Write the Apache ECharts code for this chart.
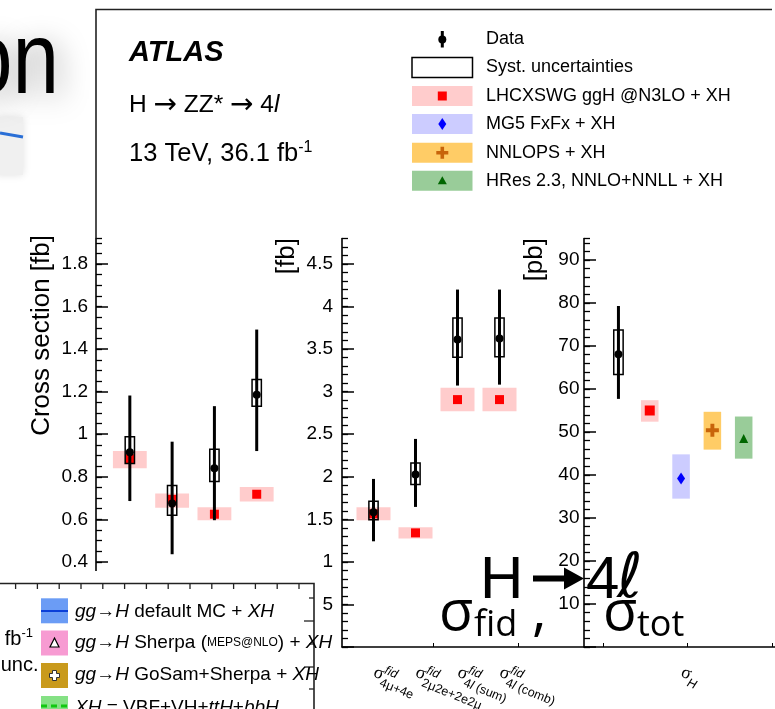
<!DOCTYPE html>
<html>
<head>
<meta charset="utf-8">
<title>H → ZZ* → 4l cross sections</title>
<script src="https://cdn.jsdelivr.net/npm/echarts@6.0.0/dist/echarts.min.js"></script>
<style>
  html, body { margin: 0; padding: 0; background: #fff; }
  #chart { width: 775px; height: 709px; }
</style>
</head>
<body>
<div id="chart"></div>
<script>
// ---------- values ----------
// Per-channel fiducial cross sections [fb]: 4mu, 4e, 2mu2e, 2e2mu
const chanPos = [1, 2, 3, 4];
const chanMeas = [0.915, 0.675, 0.840, 1.186];
const chanStatLo = [0.686, 0.436, 0.596, 0.921];
const chanStatHi = [1.182, 0.965, 1.132, 1.492];
const chanSystLo = [0.862, 0.619, 0.778, 1.131];
const chanSystHi = [0.988, 0.759, 0.930, 1.257];
const chanPred = [0.885, 0.694, 0.624, 0.718];
const chanPredLo = [0.840, 0.655, 0.596, 0.684];
const chanPredHi = [0.921, 0.721, 0.657, 0.752];

// Combined fiducial cross sections [fb]
const combPos = [1, 2, 3, 4];
const combSubs = ['4μ+4e', '2μ2e+2e2μ', '4l (sum)', '4l (comb)'];
const combMeas = [1.583, 2.026, 3.612, 3.624];
const combStatLo = [1.242, 1.646, 3.072, 3.083];
const combStatHi = [1.975, 2.445, 4.200, 4.200];
const combSystLo = [1.494, 1.908, 3.404, 3.410];
const combSystHi = [1.712, 2.163, 3.867, 3.867];
const combPred = [1.564, 1.341, 2.907, 2.907];
const combPredLo = [1.489, 1.274, 2.770, 2.770];
const combPredHi = [1.642, 1.407, 3.045, 3.045];

// Total cross section [pb]: measurement and four predictions
const totMeasPos = [1];
const totMeas = [68.1];
const totStatLo = [57.7];
const totStatHi = [79.3];
const totSystLo = [63.4];
const totSystHi = [73.7];
const totPredPos = [2, 3, 4, 5];
const totPred = [55.0, 39.2, 50.4, 48.5];
const totPredLo = [52.4, 34.5, 45.9, 43.8];
const totPredHi = [57.4, 44.8, 54.7, 53.6];
const totLabelPos = 3;

// Prediction styles (band, marker)
const predNames = ['LHCXSWG ggH @N3LO + XH', 'MG5 FxFx + XH', 'NNLOPS + XH', 'HRes 2.3, NNLO+NNLL + XH'];
const bandColors = ['#ffcccc', '#ccccff', '#ffcc66', '#99cc99'];
const markColors = ['#ff0000', '#0000ff', '#c8640a', '#006600'];
const plusPath = 'path://M3.5,0H6.5V3.5H10V6.5H6.5V10H3.5V6.5H0V3.5H3.5Z';
const markSymbols = ['rect', 'diamond', plusPath, 'triangle'];
const markSizes = [10, [8, 12], 13, 9];

// Axis ticks
const chanMajor = [0, 0.2, 0.4, 0.6, 0.8, 1, 1.2, 1.4, 1.6, 1.8];
const chanLabels = [0.4, 0.6, 0.8, 1, 1.2, 1.4, 1.6, 1.8];
const combMajor = [0, 0.5, 1, 1.5, 2, 2.5, 3, 3.5, 4, 4.5];
const combLabels = [0.5, 1, 1.5, 2, 2.5, 3, 3.5, 4, 4.5];
const totMajor = [0, 10, 20, 30, 40, 50, 60, 70, 80, 90];
const totLabels = [10, 20, 30, 40, 50, 60, 70, 80, 90];

// ---------- helpers ----------
const SANS = '"Liberation Sans", Arial, Helvetica, sans-serif';
const SERIF = '"Liberation Serif", "DejaVu Serif", serif';
const fmt = v => String(Math.round(v * 100) / 100);

function bandShape(halfW) {
  return function (params, api) {
    const x = api.value(0);
    const a = api.coord([x - halfW, api.value(2)]);
    const b = api.coord([x + halfW, api.value(1)]);
    return { type: 'rect', shape: { x: a[0], y: a[1], width: b[0] - a[0], height: b[1] - a[1] },
             style: { fill: api.visual('color') } };
  };
}
function boxShape(halfW) {
  return function (params, api) {
    const x = api.value(0);
    const a = api.coord([x - halfW, api.value(2)]);
    const b = api.coord([x + halfW, api.value(1)]);
    return { type: 'rect', shape: { x: a[0], y: a[1], width: b[0] - a[0], height: b[1] - a[1] },
             style: { fill: 'none', stroke: '#000', lineWidth: 1.5 } };
  };
}
function barShape(params, api) {
  const x = api.value(0);
  const a = api.coord([x, api.value(2)]);
  const b = api.coord([x, api.value(1)]);
  return { type: 'line', shape: { x1: a[0], y1: a[1], x2: b[0], y2: b[1] },
           style: { stroke: '#000', lineWidth: 3 } };
}
function triples(xs, lo, hi) { return xs.map((x, i) => [x, lo[i], hi[i]]); }
function pairs(xs, ys) { return xs.map((x, i) => [x, ys[i]]); }

function majorY(gi, max, majors, labels, margin) {
  return {
    type: 'value', gridIndex: gi, min: 0, max: max, position: 'left',
    axisLine: { show: true, onZero: false, lineStyle: { color: '#000', width: 1.6 } },
    axisTick: { show: true, inside: true, length: 12, customValues: majors, lineStyle: { color: '#000', width: 1.5 } },
    axisLabel: { customValues: labels, formatter: fmt, color: '#000', fontSize: 19, fontFamily: SANS, margin: margin },
    splitLine: { show: false }
  };
}
function minorY(gi, max, step) {
  return {
    type: 'value', gridIndex: gi, min: 0, max: max, interval: step, position: 'left',
    axisLine: { show: false, onZero: false },
    axisTick: { show: true, inside: true, length: 6, lineStyle: { color: '#000', width: 1.3 } },
    axisLabel: { show: false }, splitLine: { show: false }
  };
}
function bottomX(gi, min, max, ticks) {
  return {
    type: 'value', gridIndex: gi, min: min, max: max,
    axisLine: { show: true, onZero: false, lineStyle: { color: '#000', width: 1.5 } },
    axisTick: ticks ? { show: true, inside: true, length: 4, customValues: ticks, lineStyle: { color: '#000' } } : { show: false },
    axisLabel: { show: false }, splitLine: { show: false }
  };
}

function measSeries(gi, pos, meas, statLo, statHi, systLo, systHi, boxHalf) {
  return [
    { type: 'custom', xAxisIndex: gi, yAxisIndex: gi * 2, renderItem: boxShape(boxHalf),
      data: triples(pos, systLo, systHi), encode: { x: 0, y: [1, 2] }, z: 4, silent: true },
    { type: 'custom', xAxisIndex: gi, yAxisIndex: gi * 2, renderItem: barShape,
      data: triples(pos, statLo, statHi), encode: { x: 0, y: [1, 2] }, z: 5, silent: true },
    { type: 'scatter', xAxisIndex: gi, yAxisIndex: gi * 2, symbol: 'circle', symbolSize: 8,
      itemStyle: { color: '#000', opacity: 1 }, data: pairs(pos, meas), z: 6, silent: true }
  ];
}

// ---------- layout ----------
const PLOT_TOP = 238.5, PLOT_H = 408.5;

const option = {
  animation: false,
  backgroundColor: '#fff',
  grid: [
    { left: 96, top: PLOT_TOP, width: 203, height: PLOT_H },
    { left: 342, top: PLOT_TOP, width: 241.5, height: PLOT_H },
    { left: 584, top: PLOT_TOP, width: 192, height: PLOT_H }
  ],
  xAxis: [
    bottomX(0, 0.2, 5.0, null),
    bottomX(1, 0.25, 6, [2.42, 4.44]),
    bottomX(2, -0.1, 6, [0.5, 3.2, 5.9])
  ],
  yAxis: [
    majorY(0, 1.92, chanMajor, chanLabels, 8), minorY(0, 1.92, 0.05),
    majorY(1, 4.8, combMajor, combLabels, 9), minorY(1, 4.8, 0.1),
    majorY(2, 95, totMajor, totLabels, 4.5), minorY(2, 95, 2)
  ],
  series: [
    // per-channel panel
    { type: 'custom', xAxisIndex: 0, yAxisIndex: 0, renderItem: bandShape(0.4),
      itemStyle: { color: bandColors[0] }, data: triples(chanPos, chanPredLo, chanPredHi),
      encode: { x: 0, y: [1, 2] }, z: 1, silent: true },
    { type: 'scatter', xAxisIndex: 0, yAxisIndex: 0, symbol: 'rect', symbolSize: 9,
      itemStyle: { color: markColors[0], opacity: 1 }, data: pairs(chanPos, chanPred), z: 2, silent: true },
    ...measSeries(0, chanPos, chanMeas, chanStatLo, chanStatHi, chanSystLo, chanSystHi, 0.11),

    // combined panel
    { type: 'custom', xAxisIndex: 1, yAxisIndex: 2, renderItem: bandShape(0.405),
      itemStyle: { color: bandColors[0] }, data: triples(combPos, combPredLo, combPredHi),
      encode: { x: 0, y: [1, 2] }, z: 1, silent: true },
    { type: 'scatter', xAxisIndex: 1, yAxisIndex: 2, symbol: 'rect', symbolSize: 9,
      itemStyle: { color: markColors[0], opacity: 1 }, data: pairs(combPos, combPred), z: 2, silent: true },
    ...measSeries(1, combPos, combMeas, combStatLo, combStatHi, combSystLo, combSystHi, 0.11),

    // total panel
    { type: 'custom', xAxisIndex: 2, yAxisIndex: 4, renderItem: bandShape(0.28),
      data: totPredPos.map((x, i) => ({ value: [x, totPredLo[i], totPredHi[i]], itemStyle: { color: bandColors[i] } })),
      encode: { x: 0, y: [1, 2] }, z: 1, silent: true },
    { type: 'scatter', xAxisIndex: 2, yAxisIndex: 4,
      data: totPredPos.map((x, i) => ({ value: [x, totPred[i]], symbol: markSymbols[i], symbolSize: markSizes[i],
                                         itemStyle: { color: markColors[i], opacity: 1 } })),
      z: 2, silent: true },
    ...measSeries(2, totMeasPos, totMeas, totStatLo, totStatHi, totSystLo, totSystHi, 0.15)
  ]
};

const chart = echarts.init(document.getElementById('chart'), null, { renderer: 'canvas' });
chart.setOption(option);

// ---------- annotations, legend and surrounding slide pieces ----------
function txt(x, y, text, size, extra) {
  return Object.assign({ type: 'text', x: x, y: y, z: 50,
    style: Object.assign({ text: text, fontSize: size, fontFamily: SANS, fill: '#000',
                           align: 'left', verticalAlign: 'middle' }, (extra && extra.style) || {}) },
    (extra && extra.el) || {});
}
const g = [];

// rotated sigma labels under the combined and total panels
const subStyles = {
  n: { fontSize: 12.5, fontFamily: SANS, fill: '#000' },
  i: { fontSize: 12.5, fontFamily: SANS, fontStyle: 'italic', fill: '#000' }
};
function sigmaLabel(px, sup, subRichText) {
  const kids = [txt(0, -2, 'σ', 18, { style: { fontFamily: SERIF } })];
  if (sup) kids.push(txt(9.5, -7.5, sup, 12.5, { style: { fontStyle: 'italic' } }));
  kids.push(txt(9.5, 6, subRichText, 12.5, { style: { rich: subStyles } }));
  return { type: 'group', x: px[0], y: px[1] + 26.5, rotation: -22 * Math.PI / 180, z: 30, children: kids };
}
combPos.forEach((v, i) => {
  const t = combSubs[i];
  const sub = t.indexOf('4l') === 0 ? '{n|4}{i|l}{n|' + t.slice(2) + '}' : '{n|' + t + '}';
  g.push(sigmaLabel(chart.convertToPixel({ xAxisIndex: 1, yAxisIndex: 2 }, [v, 0]), 'fid', sub));
});
g.push(sigmaLabel(chart.convertToPixel({ xAxisIndex: 2, yAxisIndex: 4 }, [totLabelPos, 0]), null, '{i|H}'));

// frame of the figure
g.push({ type: 'polyline', z: 10, shape: { points: [[96, PLOT_TOP], [96, 9.5], [772, 9.5]] },
         style: { stroke: '#222', lineWidth: 1.6, fill: 'none' } });

// experiment labels
const ARROW = '"DejaVu Sans", sans-serif';
g.push(txt(129, 53.3, 'ATLAS', 29, { style: { fontWeight: 'bold', fontStyle: 'italic' } }));
g.push(txt(129, 105.3, '{n|H }{a|→}{n| ZZ* }{a|→}{n| 4}{i|l}', 24.5, { style: { rich: {
  n: { fontSize: 24.5, fontFamily: SANS, fill: '#000' },
  a: { fontSize: 28, fontFamily: ARROW, fill: '#000' },
  i: { fontSize: 24.5, fontFamily: SANS, fontStyle: 'italic', fill: '#000' } } } }));
g.push(txt(129, 153.4, '{n|13 TeV, 36.1 fb}{sup|-1}', 25.5, { style: { rich: {
  n: { fontSize: 25.5, fontFamily: SANS, fill: '#000', lineHeight: 27, verticalAlign: 'bottom' },
  sup: { fontSize: 16, fontFamily: SANS, fill: '#000', lineHeight: 27, verticalAlign: 'top' } } } }));

// legend
const LX = 412, LW = 60.5, LCX = 442.3, TX = 486;
const rowY = [39.4, 67.5, 96, 124, 152.7, 180.7];
g.push({ type: 'line', z: 50, shape: { x1: LCX, y1: 31, x2: LCX, y2: 47.5 }, style: { stroke: '#000', lineWidth: 3 } });
g.push({ type: 'circle', z: 51, shape: { cx: LCX, cy: rowY[0], r: 4 }, style: { fill: '#000' } });
g.push({ type: 'rect', z: 50, shape: { x: LX, y: rowY[1] - 10, width: LW, height: 20 },
         style: { fill: '#fff', stroke: '#000', lineWidth: 1.5 } });
for (let i = 0; i < 4; i++) {
  g.push({ type: 'rect', z: 50, shape: { x: LX, y: rowY[i + 2] - 10, width: LW, height: 20 }, style: { fill: bandColors[i] } });
}
const cy2 = rowY[2], cy3 = rowY[3], cy4 = rowY[4], cy5 = rowY[5];
g.push({ type: 'rect', z: 51, shape: { x: LCX - 4.5, y: cy2 - 4.5, width: 9, height: 9 }, style: { fill: markColors[0] } });
g.push({ type: 'polygon', z: 51, shape: { points: [[LCX, cy3 - 6], [LCX + 4, cy3], [LCX, cy3 + 6], [LCX - 4, cy3]] }, style: { fill: markColors[1] } });
g.push({ type: 'polygon', z: 51, shape: { points: [[LCX - 1.8, cy4 - 6], [LCX + 1.8, cy4 - 6], [LCX + 1.8, cy4 - 1.8], [LCX + 6, cy4 - 1.8],
  [LCX + 6, cy4 + 1.8], [LCX + 1.8, cy4 + 1.8], [LCX + 1.8, cy4 + 6], [LCX - 1.8, cy4 + 6], [LCX - 1.8, cy4 + 1.8],
  [LCX - 6, cy4 + 1.8], [LCX - 6, cy4 - 1.8], [LCX - 1.8, cy4 - 1.8]] }, style: { fill: markColors[2] } });
g.push({ type: 'polygon', z: 51, shape: { points: [[LCX, cy5 - 4.5], [LCX + 4.5, cy5 + 3.5], [LCX - 4.5, cy5 + 3.5]] }, style: { fill: markColors[3] } });
const legendTexts = ['Data', 'Syst. uncertainties'].concat(predNames);
legendTexts.forEach((t, i) => g.push(txt(TX, rowY[i], t, 18)));

// axis titles
const rot = { el: { rotation: Math.PI / 2 }, style: { align: 'right' } };
g.push(txt(41.7, 235, 'Cross section [fb]', 26, rot));
g.push(txt(286.7, 238, '[fb]', 26, rot));
g.push(txt(535, 238, '[pb]', 26, rot));

// slide heading fragment with soft shadow
g.push({ type: 'rect', z: 20, shape: { x: -5, y: 117, width: 28, height: 58 },
         style: { fill: '#f0f0f0', shadowBlur: 8, shadowColor: 'rgba(0,0,0,0.12)' } });
g.push({ type: 'polyline', z: 21, shape: { points: [[0, 133], [23, 137]] }, style: { stroke: '#2a6fd6', lineWidth: 3, fill: 'none' } });
g.push({ type: 'group', z: 22, x: -34, y: 100 - 0.3465 * 102, scaleX: 0.82, scaleY: 1, children: [
  { type: 'text', z: 22, x: 0, y: 0,
    style: { text: 'on', fontSize: 102, fontFamily: SANS, fill: '#000', align: 'left', verticalAlign: 'middle',
             textShadowBlur: 28, textShadowColor: 'rgba(0,0,0,0.35)', textShadowOffsetX: 6, textShadowOffsetY: 6 } }] });

// slide legend fragment (bottom left)
g.push({ type: 'rect', z: 40, shape: { x: -2, y: 571, width: 325, height: 140 }, style: { fill: '#fff' } });
g.push({ type: 'polyline', z: 41, shape: { points: [[0, 583.5], [314, 583.5], [314, 712]] }, style: { stroke: '#222', lineWidth: 1.6, fill: 'none' } });
for (let k = 0; k < 14; k++) {
  const x = 15.6 + k * 21.8;
  g.push({ type: 'line', z: 41, shape: { x1: x, y1: 583.5, x2: x, y2: 589 }, style: { stroke: '#222', lineWidth: 1.3 } });
}
[[598, 5], [621, 10], [644, 5], [667, 10], [689, 5]].forEach(([y, l]) =>
  g.push({ type: 'line', z: 41, shape: { x1: 314, y1: y, x2: 314 - l, y2: y }, style: { stroke: '#222', lineWidth: 1.3 } }));
const slideBoxes = [['#6b9cf5', 598.3], ['#f79bd2', 630.5], ['#c99a1c', 663], ['#85e185', 696]];
slideBoxes.forEach(([c, y]) => g.push({ type: 'rect', z: 42, shape: { x: 41, y: y, width: 27, height: 25 }, style: { fill: c } }));
g.push({ type: 'line', z: 43, shape: { x1: 41, y1: 611, x2: 68, y2: 611 }, style: { stroke: '#0b3fd8', lineWidth: 2 } });
g.push({ type: 'polygon', z: 43, shape: { points: [[54.5, 638], [59, 647], [50, 647]] }, style: { fill: '#fff', stroke: '#000', lineWidth: 1.2 } });
g.push({ type: 'polygon', z: 43, shape: { points: [[52.5, 670.5], [56.5, 670.5], [56.5, 673.5], [59.5, 673.5], [59.5, 677.5], [56.5, 677.5],
  [56.5, 680.5], [52.5, 680.5], [52.5, 677.5], [49.5, 677.5], [49.5, 673.5], [52.5, 673.5]] }, style: { fill: '#fff', stroke: '#333', lineWidth: 1 } });
g.push({ type: 'line', z: 43, shape: { x1: 41, y1: 706, x2: 68, y2: 706 }, style: { stroke: '#11c811', lineWidth: 3, lineDash: [6, 4] } });
const slideRich = {
  n: { fontSize: 19, fontFamily: SANS, fill: '#000' },
  i: { fontSize: 19, fontFamily: SANS, fontStyle: 'italic', fill: '#000' },
  sc: { fontSize: 12, fontFamily: SANS, fill: '#000' }
};
[['{i|gg}{n|→}{i|H}{n| default MC + }{i|XH}', 611.8],
 ['{i|gg}{n|→}{i|H}{n| Sherpa (}{sc|MEPS@NLO}{n|) + }{i|XH}', 642.5],
 ['{i|gg}{n|→}{i|H}{n| GoSam+Sherpa + }{i|XH}', 674.5],
 ['{i|XH}{n| = VBF+VH+}{i|ttH}{n|+}{i|bbH}', 708]
].forEach(([t, y]) => g.push(txt(75, y, t, 19, { el: { z: 44 }, style: { rich: slideRich } })));
g.push(txt(33, 638, '{n|fb}{sup|-1}', 20, { el: { z: 44 }, style: { align: 'right', rich: {
  n: { fontSize: 20, fontFamily: SANS, fill: '#000', lineHeight: 22, verticalAlign: 'bottom' },
  sup: { fontSize: 13, fontFamily: SANS, fill: '#000', lineHeight: 22, verticalAlign: 'top' } } } }));
g.push(txt(38.5, 665, 'unc.', 20, { el: { z: 44 }, style: { align: 'right' } }));

// large slide title over the plot
const big = { el: { z: 60 } };
g.push(txt(480, 602 - 0.3465 * 60, 'H', 60, big));
g.push({ type: 'line', z: 60, shape: { x1: 533, y1: 578.5, x2: 569, y2: 578.5 }, style: { stroke: '#000', lineWidth: 6 } });
g.push({ type: 'polygon', z: 60, shape: { points: [[564, 567.5], [584, 578.5], [564, 589.5]] }, style: { fill: '#000' } });
g.push(txt(586, 602 - 0.3465 * 60, '4', 60, big));
g.push(txt(617, 602 - 0.346 * 62, 'ℓ', 62, { el: { z: 60 }, style: { fontFamily: '"DejaVu Sans", sans-serif', fontStyle: 'italic' } }));
const OPEN = '"Open Sans", "Noto Sans", sans-serif';
g.push(txt(439, 636 - 0.388 * 56, 'σ', 56, { el: { z: 60 }, style: { fontFamily: OPEN } }));
g.push(txt(474, 640 - 0.388 * 36, 'fid', 36, { el: { z: 60 }, style: { fontFamily: OPEN } }));
g.push(txt(532, 636 - 0.388 * 56, ',', 56, { el: { z: 60 }, style: { fontFamily: OPEN } }));
g.push(txt(603, 636 - 0.388 * 56, 'σ', 56, { el: { z: 60 }, style: { fontFamily: OPEN } }));
g.push(txt(637, 640 - 0.388 * 36, 'tot', 36, { el: { z: 60 }, style: { fontFamily: OPEN } }));

chart.setOption({ graphic: { elements: g } });
</script>
</body>
</html>
